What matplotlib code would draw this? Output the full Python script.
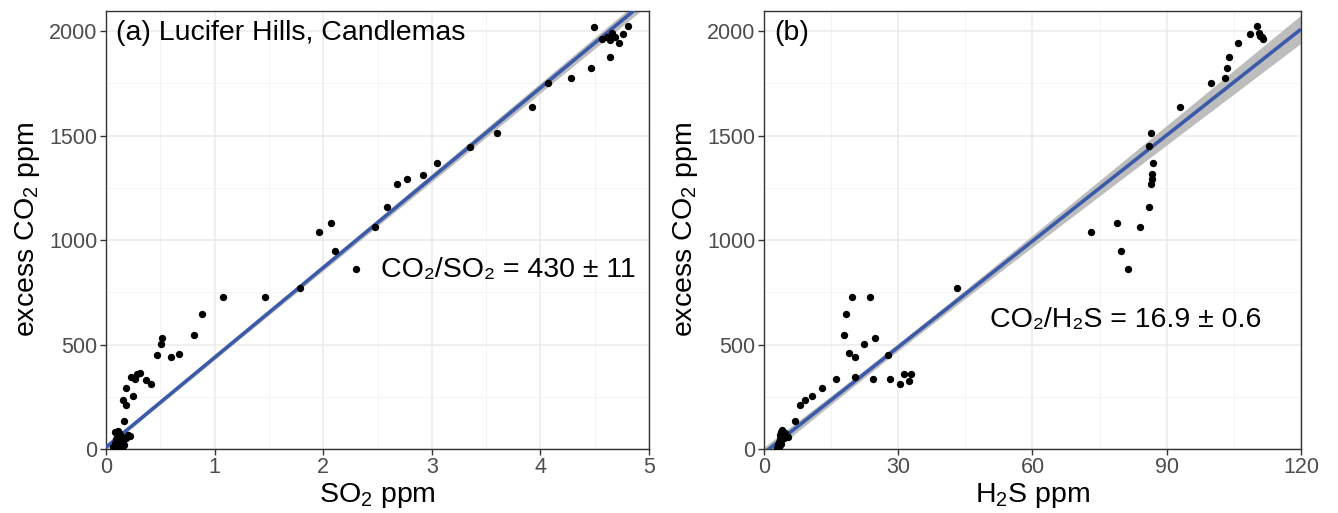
import numpy as np
import matplotlib
matplotlib.use("Agg")
import matplotlib.pyplot as plt

plt.rcParams['font.family'] = ['Liberation Sans', 'DejaVu Sans']
plt.rcParams['mathtext.fontset'] = 'custom'
plt.rcParams['mathtext.rm'] = 'Liberation Sans'
plt.rcParams['mathtext.it'] = 'Liberation Sans:italic'

# Panel (a): SO2 vs excess CO2
so2 = [0.06, 0.08, 0.09, 0.10, 0.11, 0.12, 0.13, 0.14, 0.15, 0.16, 0.18, 0.20, 0.22, 0.10, 0.12, 0.17, 0.08,
       0.169, 0.181, 0.154, 0.249, 0.184, 0.414, 0.368, 0.267, 0.23, 0.288, 0.313, 0.601, 0.675, 0.467,
       0.503, 0.516, 0.81, 0.884, 1.08, 1.467, 1.786, 2.30, 2.11, 1.96, 2.07, 2.48, 2.59, 2.68, 2.77,
       2.92, 3.05, 3.35, 3.60, 3.92, 4.07, 4.28, 4.47, 4.64, 4.49, 4.57, 4.61, 4.64, 4.66, 4.69, 4.72,
       4.76, 4.81]
co2_a = [10, 30, 50, 70, 85, 20, 45, 60, 5, 35, 55, 65, 60, 0, 75, 20, 80,
         132, 211, 234, 255, 290, 311, 330, 333, 343, 360, 362, 442, 456, 451,
         501, 531, 544, 646, 726, 726, 769, 863, 949, 1037, 1083, 1062, 1159, 1267, 1292,
         1311, 1367, 1446, 1511, 1636, 1753, 1774, 1823, 1874, 2021, 1963, 1973, 1957, 1989, 1973, 1944,
         1986, 2024]

# Panel (b): H2S vs excess CO2
h2s = [3.0, 3.2, 3.4, 3.5, 3.6, 3.8, 4.0, 3.3, 3.7, 4.2, 4.5, 3.9, 4.6, 3.1, 4.1,
       5.43, 6.85, 8.12, 9.09, 10.65, 12.89, 16.09, 20.41, 24.29, 28.08, 30.32, 31.28, 32.77, 32.33,
       18.99, 20.41, 27.71, 22.27, 24.88, 17.95, 18.32, 19.66, 23.69, 43.06, 73.0, 78.8, 84.0, 79.8,
       81.4, 86.4, 86.6, 86.8, 87.0, 86.1, 85.96, 86.4, 92.96, 99.8, 103.0, 103.5, 104.0, 106.0,
       108.7, 110.1, 110.7, 111.2, 111.4, 110.9]
co2_b = [5, 20, 35, 50, 65, 80, 90, 10, 45, 70, 55, 25, 75, 0, 85,
         59, 132, 211, 234, 255, 290, 335, 343, 333, 336, 309, 360, 360, 327,
         458, 442, 451, 502, 530, 544, 646, 726, 726, 769, 1037, 1083, 1061, 949,
         862, 1268, 1290, 1316, 1367, 1450, 1159, 1511, 1636, 1753, 1774, 1823, 1874, 1944,
         1986, 2024, 1989, 1970, 1960, 1978]

# Fitted lines (slope, intercept) and confidence-band shape
fit_a = dict(slope=430.0, intercept=8.0, band_x0=0.0, band_h0=9.0, band_h1=5.6)
fit_b = dict(slope=16.9, intercept=-19.0, band_x0=30.0, band_h0=18.0, band_h1=0.72)

panel_a_label = "(a) Lucifer Hills, Candlemas"
panel_b_label = "(b)"
ratio_a = "CO\u2082/SO\u2082 = 430 \u00b1 11"
ratio_b = "CO\u2082/H\u2082S = 16.9 \u00b1 0.6"

W, H = 1338, 513
fig = plt.figure(figsize=(W / 100, H / 100), dpi=100)

def frac(x0, x1, y0, y1):
    return [x0 / W, 1 - y1 / H, (x1 - x0) / W, (y1 - y0) / H]

ax1 = fig.add_axes(frac(106, 649, 11, 449))
ax2 = fig.add_axes(frac(764, 1301, 11, 449))

line_col = '#3b5ba9'
band_col = '#bdbdbd'
TICK_FS = 15.5
TEXT_FS = 20.5

def draw(ax, x, y, fit, xlim, xticks, xlabel):
    x = np.asarray(x, float)
    y = np.asarray(y, float)
    ax.set_facecolor('white')
    xs = np.linspace(xlim[0], xlim[1], 300)
    yhat = fit['intercept'] + fit['slope'] * xs
    half = np.sqrt(fit['band_h0'] ** 2 + (fit['band_h1'] * (xs - fit['band_x0'])) ** 2)
    ax.fill_between(xs, yhat - half, yhat + half, color=band_col, lw=0, zorder=2)
    ax.plot(xs, yhat, color=line_col, lw=2.6, zorder=3, solid_capstyle='butt')
    ax.scatter(x, y, s=28, color='black', lw=0, zorder=4)
    ax.set_xlim(*xlim)
    ax.set_ylim(0, 2096)
    ax.set_xticks(xticks)
    ax.set_yticks([0, 500, 1000, 1500, 2000])
    minor_x = [(xticks[i] + xticks[i + 1]) / 2 for i in range(len(xticks) - 1)]
    ax.set_xticks(minor_x, minor=True)
    ax.set_yticks([250, 750, 1250, 1750], minor=True)
    ax.grid(True, which='major', color='#ebebeb', lw=1.1, zorder=0)
    ax.grid(True, which='minor', color='#f2f2f2', lw=0.6, zorder=0)
    ax.set_axisbelow(True)
    ax.tick_params(which='major', direction='out', length=4, width=1, color='#333333',
                   labelsize=TICK_FS, labelcolor='#4d4d4d', pad=2)
    ax.tick_params(which='minor', length=0)
    for sp in ax.spines.values():
        sp.set_color('#333333')
        sp.set_linewidth(1.0)
    ax.set_xlabel(xlabel, fontsize=TEXT_FS, labelpad=2)
    ax.set_ylabel("excess CO$_2$ ppm", fontsize=TEXT_FS, labelpad=5)

draw(ax1, so2, co2_a, fit_a, (0, 5), [0, 1, 2, 3, 4, 5], "SO$_2$ ppm")
draw(ax2, h2s, co2_b, fit_b, (0, 120), [0, 30, 60, 90, 120], "H$_2$S ppm")

ax1.text(0.019, 0.95, panel_a_label, transform=ax1.transAxes, fontsize=TEXT_FS, va='center', ha='left')
ax2.text(0.019, 0.95, panel_b_label, transform=ax2.transAxes, fontsize=TEXT_FS, va='center', ha='left')
ax1.text(2.53, 856, ratio_a, fontsize=TEXT_FS, va='center', ha='left',
         family=['Liberation Sans', 'DejaVu Sans'])
ax2.text(50.5, 617, ratio_b, fontsize=TEXT_FS, va='center', ha='left',
         family=['Liberation Sans', 'DejaVu Sans'])

fig.savefig("out.png", dpi=100, facecolor='white')
